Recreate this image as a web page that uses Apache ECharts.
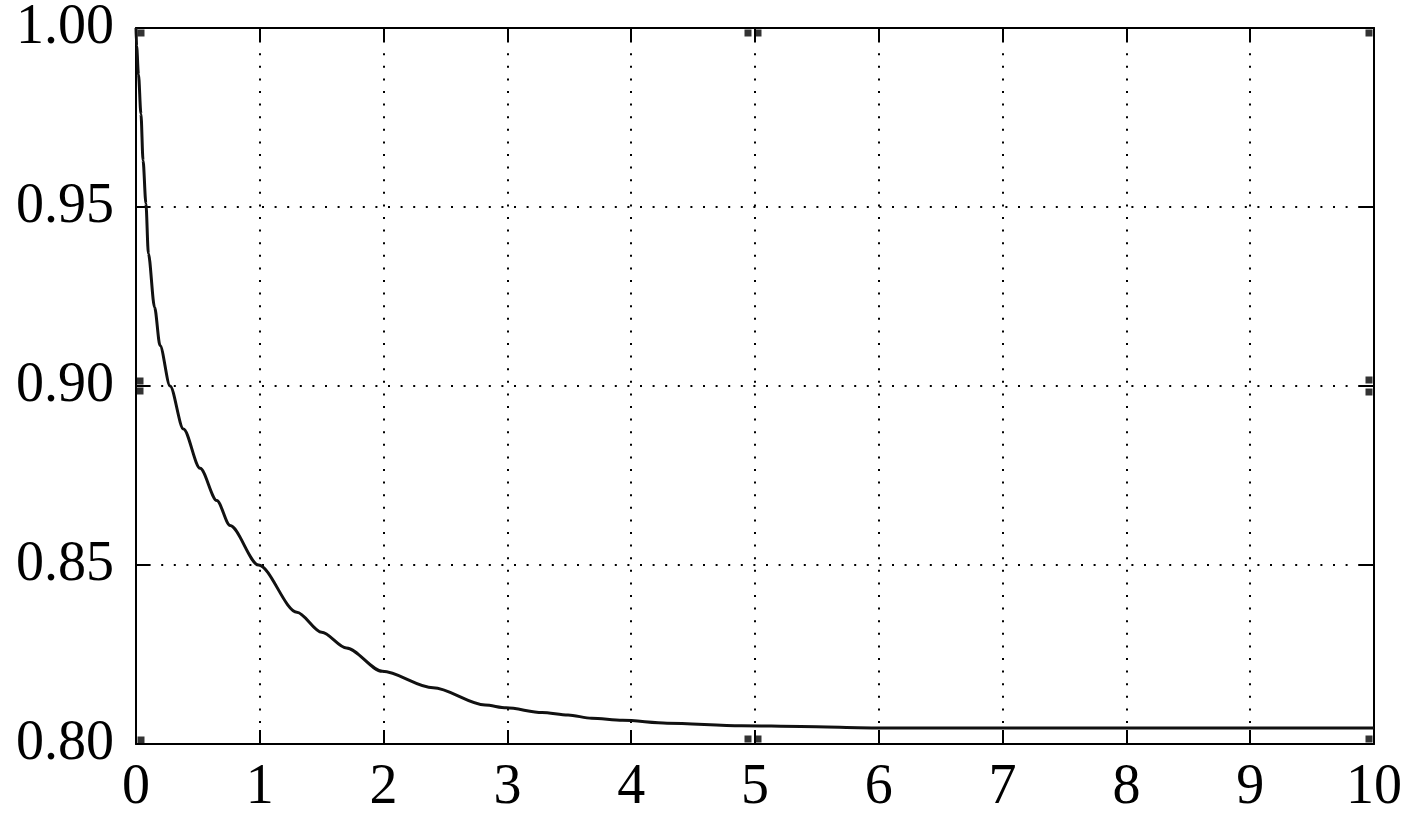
<!DOCTYPE html>
<html lang="en">
<head>
  <meta charset="UTF-8">
  <title>Decay curve</title>
  <script src="https://cdn.jsdelivr.net/npm/echarts@6/dist/echarts.min.js"></script>
  <style>
    html, body { margin: 0; padding: 0; background: #fff; }
    #chart { width: 1417px; height: 833px; }
  </style>
</head>
<body>
  <div id="chart"></div>
  <script>
    // curve: [time, value]
    const curveX = [0, 0.005, 0.02, 0.04, 0.057, 0.08, 0.1, 0.15, 0.194, 0.275, 0.383, 0.518, 0.653, 0.76, 0.99,
      1.3, 1.5, 1.7, 1.99, 2.4, 2.82, 2.99, 3.28, 3.49, 3.68, 3.93, 4.29, 4.89, 5.37, 6, 7, 8, 9, 10];
    const curveY = [1.0, 0.995, 0.987, 0.976, 0.963, 0.951, 0.937, 0.922, 0.9113, 0.900, 0.888, 0.877, 0.868, 0.861, 0.850,
      0.8368, 0.8312, 0.8268, 0.8203, 0.8157, 0.8109, 0.8101, 0.8088, 0.8081, 0.8072, 0.8066, 0.8058, 0.8051, 0.8049, 0.8045, 0.8045, 0.8045, 0.8045, 0.8045];
    const xTicks = ['0', '1', '2', '3', '4', '5', '6', '7', '8', '9', '10'];
    const yTicks = ['0.80', '0.85', '0.90', '0.95', '1.00'];
    // little square handles sitting on the frame: [x, y, offX, offY]
    const handles = [
      [0, 1.0, 5, 5], [5, 1.0, -7, 5], [5, 1.0, 3, 5], [10, 1.0, -5, 5],
      [0, 0.9, 4, -5], [0, 0.9, 4, 5], [10, 0.9, -5, -6], [10, 0.9, -5, 6],
      [0, 0.8, 5, -4], [5, 0.8, -7, -5], [5, 0.8, 3, -5], [10, 0.8, -5, -5]
    ];

    const font = { fontFamily: 'Liberation Serif', fontSize: 56, color: '#000' };
    const dotted = { color: '#000', width: 2, type: [2, 10.6] };
    const tick = { show: true, inside: true, length: 14, lineStyle: { color: '#000', width: 2 } };

    const myChart = echarts.init(document.getElementById('chart'));
    const option = {
      backgroundColor: '#fff',
      animation: false,
      grid: { left: 136, right: 43, top: 25, bottom: 89, show: false },
      xAxis: [{
        type: 'value', min: 0, max: 10, interval: 1,
        axisLine: { show: true, onZero: false, lineStyle: { color: '#000', width: 2 } },
        axisTick: tick,
        axisLabel: Object.assign({ margin: 16, formatter: v => xTicks[Math.round(v)] }, font),
        splitLine: { show: true, lineStyle: dotted }
      }, {
        type: 'value', min: 0, max: 10, interval: 1, position: 'top',
        axisLine: { show: true, onZero: false, lineStyle: { color: '#000', width: 2 } },
        axisTick: tick, axisLabel: { show: false }, splitLine: { show: false }
      }],
      yAxis: [{
        type: 'value', min: 0.8, max: 1.0, interval: 0.05,
        axisLine: { show: true, onZero: false, lineStyle: { color: '#000', width: 2 } },
        axisTick: tick,
        axisLabel: Object.assign({ margin: 22, formatter: v => yTicks[Math.round((v - 0.8) / 0.05)] }, font),
        splitLine: { show: true, lineStyle: dotted }
      }, {
        type: 'value', min: 0.8, max: 1.0, interval: 0.05, position: 'right',
        axisLine: { show: true, onZero: false, lineStyle: { color: '#000', width: 2 } },
        axisTick: tick, axisLabel: { show: false }, splitLine: { show: false }
      }],
      series: [{
        type: 'line',
        data: curveX.map((x, i) => [x, curveY[i]]),
        symbol: 'none',
        smooth: 0.3,
        smoothMonotone: 'x',
        lineStyle: { color: '#111', width: 3 },
        z: 5
      }, {
        type: 'scatter',
        data: handles.map(h => ({ value: [h[0], h[1]], symbolOffset: [h[2], h[3]] })),
        symbol: 'rect',
        symbolSize: 7,
        itemStyle: { color: '#000' },
        silent: true,
        z: 6
      }]
    };
    myChart.setOption(option);
  </script>
</body>
</html>
